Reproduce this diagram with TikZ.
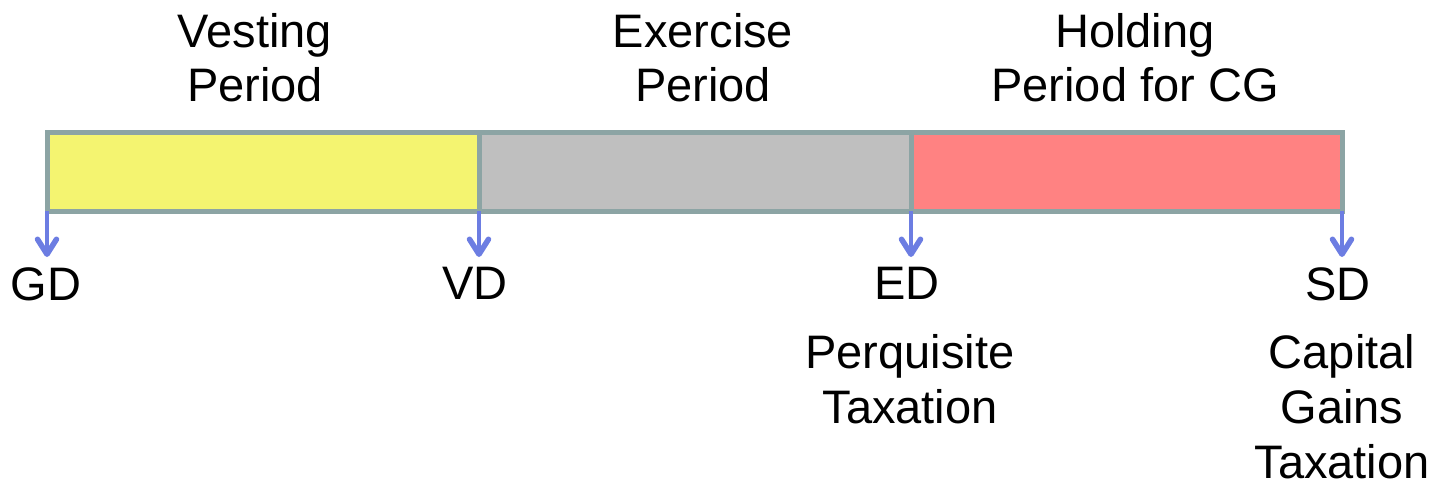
\documentclass[tikz,border=0pt]{standalone}
\usepackage{fontspec}
\setmainfont{Liberation Sans}
\usetikzlibrary{arrows.meta}
\definecolor{barborder}{HTML}{8CA4A4}
\definecolor{vestfill}{HTML}{F4F470}
\definecolor{exerfill}{HTML}{BFBFBF}
\definecolor{holdfill}{HTML}{FF8282}
\definecolor{arrowblue}{HTML}{6C7DE2}
\tikzset{
  segment/.style={draw=barborder, line width=5pt, inner sep=0pt, outer sep=0pt, minimum height=79pt},
  lbl/.style={font=\fontsize{47}{54}\selectfont, align=center, inner sep=0pt, anchor=north},
  blbl/.style={font=\fontsize{47}{55}\selectfont, align=center, inner sep=0pt, anchor=north},
  datearrow/.style={draw=arrowblue, line width=4.5pt, -{Straight Barb[length=15pt,width=19pt,line width=5.5pt,line cap=round,line join=round]}}
}
\begin{document}
\begin{tikzpicture}[x=1pt,y=-1pt]
\useasboundingbox (0,0) rectangle (1435,482);
% bar segments
\node[segment, fill=vestfill, minimum width=432pt] (vest) at (263,171.5) {};
\node[segment, fill=exerfill, minimum width=432pt] (exer) at (695,171.5) {};
\node[segment, fill=holdfill, minimum width=431pt] (hold) at (1126.5,171.5) {};
% period labels
\node[lbl] (vestlbl) at (255,13) {Vesting\\Period};
\node[lbl] (exerlbl) at (703,13) {Exercise\\Period};
\node[lbl] (holdlbl) at (1135,13) {Holding\\Period for CG};
% arrow tips
\coordinate (tGD) at (47,257);
\coordinate (tVD) at (479,257);
\coordinate (tED) at (911,257);
\coordinate (tSD) at (1342,257);
\draw[datearrow] (vest.south west) -- (tGD);
\draw[datearrow] (vest.south east) -- (tVD);
\draw[datearrow] (exer.south east) -- (tED);
\draw[datearrow] (hold.south east) -- (tSD);
% date labels
\node[blbl] (gd) at (46,267) {GD};
\node[blbl] (vd) at (475,267) {VD};
\node[blbl] (ed) at (907,267) {ED};
\node[blbl] (sd) at (1338,267) {SD};
\node[blbl] (perq) at (910,334) {Perquisite\\Taxation};
\node[blbl] (cgt) at (1342,334) {Capital\\Gains\\Taxation};
\end{tikzpicture}
\end{document}
